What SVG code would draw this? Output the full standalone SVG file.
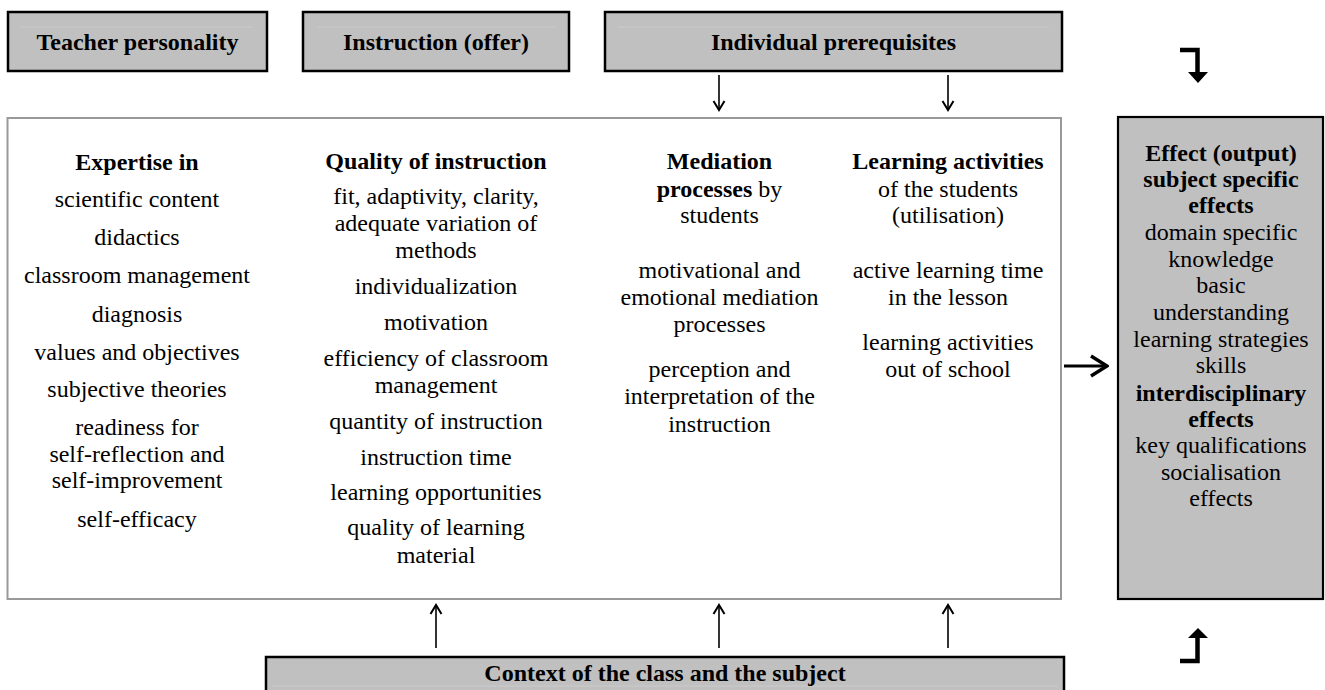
<svg xmlns="http://www.w3.org/2000/svg" width="1325" height="690" viewBox="0 0 1325 690">
<defs>
<style>
text{font-family:"Liberation Serif","Times New Roman",serif;font-size:24px;fill:#000;text-anchor:middle}
.b{font-weight:bold}
.hdr{fill:#c0c0c0;stroke:#000;stroke-width:2.5}
.faint{stroke:#cbcbcb;stroke-width:1;fill:none}
.conn{stroke:#000;stroke-width:1.6;fill:none}
.bent{stroke:#000;stroke-width:4.5;fill:none}
</style>
<marker id="chev" viewBox="-12 -7 14 14" markerWidth="14" markerHeight="14" refX="0" refY="0" orient="auto" markerUnits="userSpaceOnUse">
<path d="M-9,-5.5 L0,0 L-9,5.5" fill="none" stroke="#000" stroke-width="2"/>
</marker>
<marker id="chevBig" viewBox="-20 -12 22 24" markerWidth="22" markerHeight="24" refX="0" refY="0" orient="auto" markerUnits="userSpaceOnUse">
<path d="M-16,-10 L0,0 L-16,10" fill="none" stroke="#000" stroke-width="3.5"/>
</marker>
</defs>

<g id="teacher-personality">
<rect class="hdr" x="8" y="12" width="259" height="59"/>
<line class="faint" x1="21" y1="27" x2="253" y2="27"/>
<text class="b" x="137.5" y="50">Teacher personality</text>
</g>

<g id="instruction-offer">
<rect class="hdr" x="303" y="12" width="266" height="59"/>
<line class="faint" x1="318" y1="27" x2="555" y2="27"/>
<text class="b" x="436" y="50">Instruction (offer)</text>
</g>

<g id="individual-prerequisites">
<rect class="hdr" x="605" y="12" width="457" height="59"/>
<line class="faint" x1="618" y1="27" x2="1049" y2="27"/>
<text class="b" x="833.5" y="50">Individual prerequisites</text>
</g>

<g id="main-box">
<rect x="7.5" y="118" width="1053.5" height="481" fill="#fff" stroke="#999" stroke-width="2"/>
</g>

<g id="teacher-expertise">
<text class="b" x="137" y="170">Expertise in</text>
<text x="137" y="207">scientific content</text>
<text x="137" y="245">didactics</text>
<text x="137" y="283">classroom management</text>
<text x="137" y="322">diagnosis</text>
<text x="137" y="360">values and objectives</text>
<text x="137" y="397">subjective theories</text>
<text x="137" y="435">readiness for</text>
<text x="137" y="462">self-reflection and</text>
<text x="137" y="488">self-improvement</text>
<text x="137" y="527">self-efficacy</text>
</g>

<g id="quality-of-instruction">
<text class="b" x="436" y="169">Quality of instruction</text>
<text x="436" y="204">fit, adaptivity, clarity,</text>
<text x="436" y="231">adequate variation of</text>
<text x="436" y="258">methods</text>
<text x="436" y="294">individualization</text>
<text x="436" y="330">motivation</text>
<text x="436" y="366">efficiency of classroom</text>
<text x="436" y="393">management</text>
<text x="436" y="429">quantity of instruction</text>
<text x="436" y="465">instruction time</text>
<text x="436" y="500">learning opportunities</text>
<text x="436" y="535">quality of learning</text>
<text x="436" y="563">material</text>
</g>

<g id="mediation-processes">
<text class="b" x="719.5" y="169">Mediation</text>
<text x="719.5" y="197"><tspan class="b">processes</tspan> by</text>
<text x="719.5" y="223">students</text>
<text x="719.5" y="278">motivational and</text>
<text x="719.5" y="305">emotional mediation</text>
<text x="719.5" y="332">processes</text>
<text x="719.5" y="377">perception and</text>
<text x="719.5" y="404">interpretation of the</text>
<text x="719.5" y="432">instruction</text>
</g>

<g id="learning-activities">
<text class="b" x="948" y="169">Learning activities</text>
<text x="948" y="197">of the students</text>
<text x="948" y="223">(utilisation)</text>
<text x="948" y="278">active learning time</text>
<text x="948" y="305">in the lesson</text>
<text x="948" y="350">learning activities</text>
<text x="948" y="377">out of school</text>
</g>

<g id="effect-output">
<rect x="1118" y="117" width="205" height="482" fill="#c0c0c0" stroke="#000" stroke-width="2.2"/>
<text class="b" x="1221" y="161">Effect (output)</text>
<text class="b" x="1221" y="187">subject specific</text>
<text class="b" x="1221" y="213">effects</text>
<text x="1221" y="240">domain specific</text>
<text x="1221" y="267">knowledge</text>
<text x="1221" y="293">basic</text>
<text x="1221" y="320">understanding</text>
<text x="1221" y="347">learning strategies</text>
<text x="1221" y="373">skills</text>
<text class="b" x="1221" y="401">interdisciplinary</text>
<text class="b" x="1221" y="427">effects</text>
<text x="1221" y="453">key qualifications</text>
<text x="1221" y="480">socialisation</text>
<text x="1221" y="506">effects</text>
</g>

<g id="context">
<rect class="hdr" x="266" y="657" width="798" height="70"/>
<line class="faint" x1="272" y1="686" x2="1058" y2="686"/>
<text class="b" x="665" y="681">Context of the class and the subject</text>
</g>

<g id="connectors">
<line class="conn" x1="719" y1="75" x2="719" y2="110" marker-end="url(#chev)"/>
<line class="conn" x1="948" y1="75" x2="948" y2="110" marker-end="url(#chev)"/>
<line class="conn" x1="436" y1="648" x2="436" y2="605" marker-end="url(#chev)"/>
<line class="conn" x1="719" y1="648" x2="719" y2="605" marker-end="url(#chev)"/>
<line class="conn" x1="948" y1="648" x2="948" y2="605" marker-end="url(#chev)"/>
<line x1="1064" y1="366" x2="1107" y2="366" stroke="#000" stroke-width="3" marker-end="url(#chevBig)"/>
<path class="bent" d="M1180,50 H1197.5 V73"/>
<polygon points="1188,72 1208,72 1198,83" fill="#000"/>
<path class="bent" d="M1180,661 H1197.5 V637"/>
<polygon points="1188,638 1208,638 1198,628" fill="#000"/>
</g>
</svg>
